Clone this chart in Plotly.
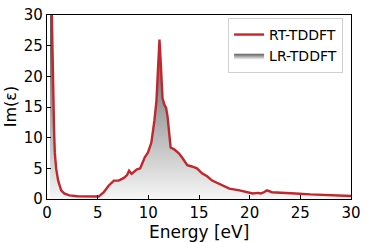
import plotly.graph_objects as go

energy = [0.3, 0.45, 0.52, 0.61, 0.7, 0.77, 0.9, 1.1, 1.25, 1.4, 1.7, 2.2, 3.0, 4.0, 4.8, 5.1,
          5.6, 6.1, 6.6, 7.07, 7.55, 7.9, 8.1, 8.35, 8.84, 9.2, 9.65, 9.97, 10.3, 10.5, 10.6,
          10.8, 10.9, 11.0, 11.1, 11.2, 11.3, 11.4, 11.6, 11.75, 11.9, 12.07, 12.2, 12.55,
          13.04, 13.4, 13.84, 14.3, 14.8, 15.3, 15.8, 16.3, 17.1, 18.0, 19.0, 19.8, 20.3,
          20.8, 21.1, 21.4, 21.7, 22.2, 23.0, 24.5, 26.0, 27.5, 29.0, 30.0]
im_eps = [45.0, 30.5, 24.0, 15.4, 11.0, 7.6, 5.0, 3.0, 2.0, 1.4, 0.9, 0.6, 0.45, 0.4, 0.35, 0.4,
          1.1, 2.2, 3.0, 3.0, 3.4, 3.9, 4.6, 4.1, 4.8, 5.0, 6.8, 7.6, 9.2, 11.5, 12.8,
          16.0, 19.0, 23.0, 26.0, 23.0, 19.5, 16.4, 15.3, 14.9, 13.4, 10.3, 8.4, 8.1,
          7.4, 6.6, 5.5, 5.3, 5.0, 4.2, 3.7, 3.0, 2.4, 1.7, 1.4, 1.1, 0.9,
          1.0, 0.9, 1.1, 1.4, 1.1, 1.0, 0.9, 0.75, 0.65, 0.55, 0.5]

x_ticks = [0, 5, 10, 15, 20, 25, 30]
y_ticks = [0, 5, 10, 15, 20, 25, 30]

fig = go.Figure()

fig.add_trace(go.Scatter(
    x=energy, y=im_eps, mode="lines", name="LR-TDDFT",
    line=dict(width=0, color="#888888"),
    fill="tozeroy",
    fillgradient=dict(type="vertical", start=0, stop=26,
                      colorscale=[[0, "#ffffff"], [1, "#5e5e5e"]]),
))
fig.add_trace(go.Scatter(
    x=energy, y=im_eps, mode="lines", name="RT-TDDFT",
    line=dict(width=2.4, color="#c1272d"),
))

axis_common = dict(
    showline=True, linecolor="black", linewidth=1.2, mirror=True,
    ticks="inside", ticklen=4, tickcolor="black", tickwidth=1,
    showgrid=False, zeroline=False, ticklabeloverflow="allow",
    tickfont=dict(family="DejaVu Sans", size=15, color="black"),
)

fig.update_layout(
    width=367, height=242,
    margin=dict(l=47, r=10, t=6, b=43),
    plot_bgcolor="white", paper_bgcolor="white",
    showlegend=True,
    legend=dict(
        x=0.974, y=0.984, xanchor="right", yanchor="top",
        traceorder="reversed",
        bordercolor="#d0d0d0", borderwidth=1, bgcolor="rgba(255,255,255,0.8)",
        font=dict(family="DejaVu Sans", size=14, color="black"),
        itemwidth=30, tracegroupgap=0,
    ),
    xaxis=dict(range=[-0.0001, 30.0001], tickvals=x_ticks,
               ticktext=[str(v) for v in x_ticks], ticklabelstandoff=0,
               **axis_common),
    yaxis=dict(range=[-0.0001, 30.0001], tickvals=y_ticks,
               ticktext=[str(v) for v in y_ticks], ticklabelstandoff=0,
               **axis_common),
    annotations=[
        dict(text="Energy [eV]", x=0.5, y=-0.178, xref="paper", yref="paper",
             xanchor="center", yanchor="middle", showarrow=False,
             font=dict(family="DejaVu Sans", size=17, color="black")),
        dict(text="Im(ε)", x=-0.121, y=0.5, xref="paper", yref="paper",
             xanchor="center", yanchor="middle", showarrow=False, textangle=-90,
             font=dict(family="DejaVu Sans", size=16, color="black")),
    ],
)

fig.write_html("out.html", config={"displayModeBar": False},
               post_script="document.body.style.margin='0';document.body.style.padding='0';")
